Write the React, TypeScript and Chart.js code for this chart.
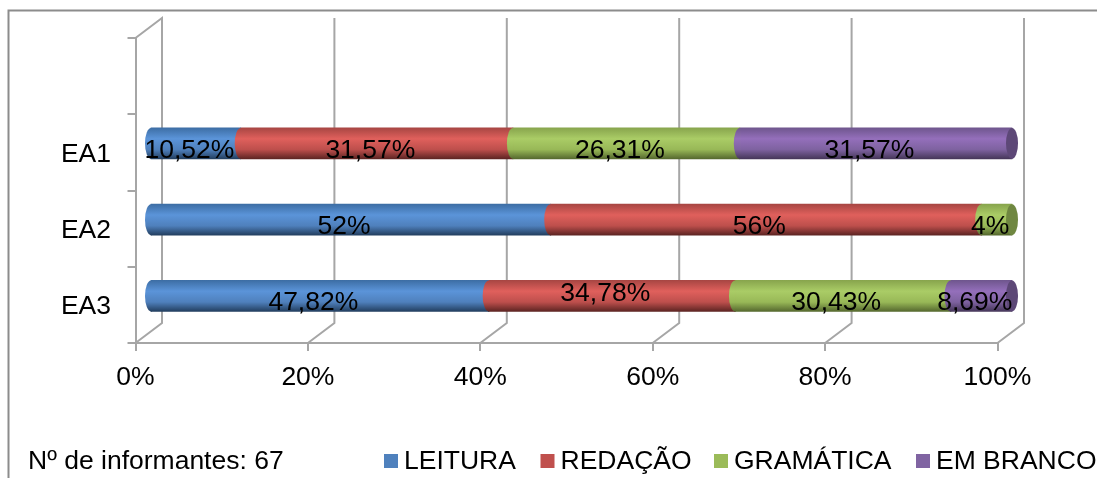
import React, { useEffect, useRef } from "react";
import { Chart, registerables } from "chart.js";

Chart.register(...registerables);

const categories = ["", "EA1", "EA2", "EA3"];
const leitura = [null, 10.52, 52, 47.82];
const redacao = [null, 31.57, 56, 34.78];
const gramatica = [null, 26.31, 4, 30.43];
const emBranco = [null, 31.57, null, 8.69];
const seriesNames = ["LEITURA", "REDAÇÃO", "GRAMÁTICA", "EM BRANCO"];
const seriesValues = [leitura, redacao, gramatica, emBranco];
const axisTicks = [0, 20, 40, 60, 80, 100];
const note = "Nº de informantes: 67";

const FONT = '"Liberation Sans", Arial, sans-serif';
const GRID = "#a6a6a6";
const swatches = ["#4f81bd", "#c0504d", "#9bbb59", "#8064a2"];
const ramps = [
  ["#3d6ea5", "#5b94d9", "#4f80bc", "#233f60"],
  ["#a84643", "#e0605c", "#bd4f4c", "#5e2523"],
  ["#88a54d", "#aacc66", "#98b857", "#56692f"],
  ["#6f568e", "#946fbb", "#7e62a0", "#46375a"],
];
const capColors = ["#3b6190", "#8f3c3a", "#6f8741", "#5d4877"];

const BAR_H = 31;
const SHIFT_X = 14.5;
const SHIFT_Y = -9;
const DEPTH_X = 26.5;
const DEPTH_Y = -20;
const RX = 6;

const rowTotal = (i: number) =>
  seriesValues.reduce((s, a) => s + (a[i] ?? 0), 0);

function grad(ctx: CanvasRenderingContext2D, s: number, cy: number) {
  const g = ctx.createLinearGradient(0, cy - BAR_H / 2, 0, cy + BAR_H / 2);
  const r = ramps[s];
  g.addColorStop(0, r[0]);
  g.addColorStop(0.35, r[1]);
  g.addColorStop(0.7, r[2]);
  g.addColorStop(1, r[3]);
  return g;
}

const scene = {
  id: "scene",
  beforeDatasetsDraw(chart: any) {
    const { ctx, scales } = chart;
    const x = scales.x;
    const top = scales.y.top;
    const bottom = scales.y.bottom;
    ctx.save();
    ctx.strokeStyle = "#8c8c8c";
    ctx.lineWidth = 2;
    ctx.beginPath();
    ctx.moveTo(1097, 10.5);
    ctx.lineTo(8.5, 10.5);
    ctx.lineTo(8.5, 478);
    ctx.stroke();
    ctx.strokeStyle = GRID;
    axisTicks.forEach((t) => {
      const px = x.getPixelForValue(t);
      ctx.beginPath();
      ctx.moveTo(px, bottom);
      ctx.lineTo(px + DEPTH_X, bottom + DEPTH_Y);
      ctx.lineTo(px + DEPTH_X, top + DEPTH_Y);
      if (t === 0) ctx.lineTo(px, top);
      ctx.stroke();
    });
    ctx.restore();
    ctx.save();
    ctx.translate(SHIFT_X, SHIFT_Y);
  },
  afterDatasetsDraw(chart: any) {
    const { ctx, scales } = chart;
    // curved segment starts and cylinder end, in the shifted bar plane
    seriesValues.forEach((vals, s) => {
      const meta = chart.getDatasetMeta(s);
      meta.data.forEach((el: any, i: number) => {
        if (vals[i] == null) return;
        ctx.fillStyle = grad(ctx, s, el.y);
        ctx.beginPath();
        ctx.ellipse(el.base, el.y, RX, BAR_H / 2, 0, Math.PI / 2, (3 * Math.PI) / 2);
        ctx.lineTo(el.base + 1, el.y - BAR_H / 2);
        ctx.lineTo(el.base + 1, el.y + BAR_H / 2);
        ctx.closePath();
        ctx.fill();
      });
    });
    categories.forEach((_, i) => {
      let last = -1;
      seriesValues.forEach((a, s) => {
        if (a[i] != null) last = s;
      });
      if (last < 0) return;
      const el = chart.getDatasetMeta(last).data[i];
      ctx.fillStyle = capColors[last];
      ctx.beginPath();
      ctx.ellipse(el.x, el.y, RX, BAR_H / 2, 0, 0, Math.PI * 2);
      ctx.fill();
    });
    ctx.restore();

    // data labels
    ctx.save();
    ctx.font = `26.5px ${FONT}`;
    ctx.fillStyle = "#000";
    ctx.textAlign = "center";
    ctx.textBaseline = "middle";
    seriesValues.forEach((vals, s) => {
      const meta = chart.getDatasetMeta(s);
      meta.data.forEach((el: any, i: number) => {
        const v = vals[i];
        if (v == null) return;
        const cx = (el.base + el.x) / 2 + 8;
        const raised = s === 1 && i === 3 ? 9 : 0;
        ctx.fillText(String(v).replace(".", ",") + "%", cx, scales.y.getPixelForValue(i) - 2 - raised);
      });
    });

    // note and legend
    ctx.textAlign = "left";
    ctx.fillText(note, 28, 462);
    const boxX = [384, 540.5, 714, 916];
    seriesNames.forEach((name, s) => {
      ctx.fillStyle = swatches[s];
      ctx.fillRect(boxX[s], 454, 14, 14);
      ctx.fillStyle = "#000";
      ctx.fillText(name, boxX[s] + 20, 462);
    });
    ctx.restore();
  },
};

export default function App() {
  const ref = useRef<HTMLCanvasElement>(null);
  useEffect(() => {
    const chart = new Chart(ref.current!, {
      type: "bar",
      data: {
        labels: categories,
        datasets: seriesNames.map((label, s) => ({
          label,
          data: seriesValues[s].map((v, i) => (v == null ? null : (v / rowTotal(i)) * 100)),
          backgroundColor: (c: any) => {
            const cy = c.chart.scales.y.getPixelForValue(c.dataIndex);
            return Number.isFinite(cy) ? grad(c.chart.ctx, s, cy) : swatches[s];
          },
          borderWidth: 0,
          barThickness: BAR_H,
          clip: false,
        })),
      } as any,
      options: {
        indexAxis: "y",
        responsive: false,
        animation: false,
        layout: { padding: { left: 0, right: 99.5, top: 38, bottom: 0 } },
        plugins: { legend: { display: false }, title: { display: false }, tooltip: { enabled: false } },
        scales: {
          x: {
            type: "linear",
            stacked: true,
            min: 0,
            max: 100,
            afterFit: (s: any) => { s.height = 135; },
            afterBuildTicks: (s: any) => { s.ticks = axisTicks.map((value) => ({ value })); },
            border: { display: true, color: GRID, width: 2 },
            grid: { drawOnChartArea: false, drawTicks: true, tickLength: 8, color: GRID, lineWidth: 2 },
            ticks: {
              padding: 11,
              maxRotation: 0,
              color: "#000",
              font: { family: FONT, size: 26.5 },
              callback: (v: any) => `${v}%`,
            },
          },
          y: {
            stacked: true,
            afterFit: (s: any) => { s.width = 135.5; },
            border: { display: true, color: GRID, width: 2 },
            grid: { drawOnChartArea: false, drawTicks: true, tickLength: 8, color: GRID, lineWidth: 2 },
            ticks: { padding: 16.5, labelOffset: 2, color: "#000", font: { family: FONT, size: 26.5 } },
          },
        },
      } as any,
      plugins: [scene],
    });
    return () => chart.destroy();
  }, []);
  return (
    <canvas
      ref={ref}
      width={1097}
      height={478}
      style={{ position: "fixed", left: 0, top: 0, width: 1097, height: 478, background: "#fff" }}
    />
  );
}
